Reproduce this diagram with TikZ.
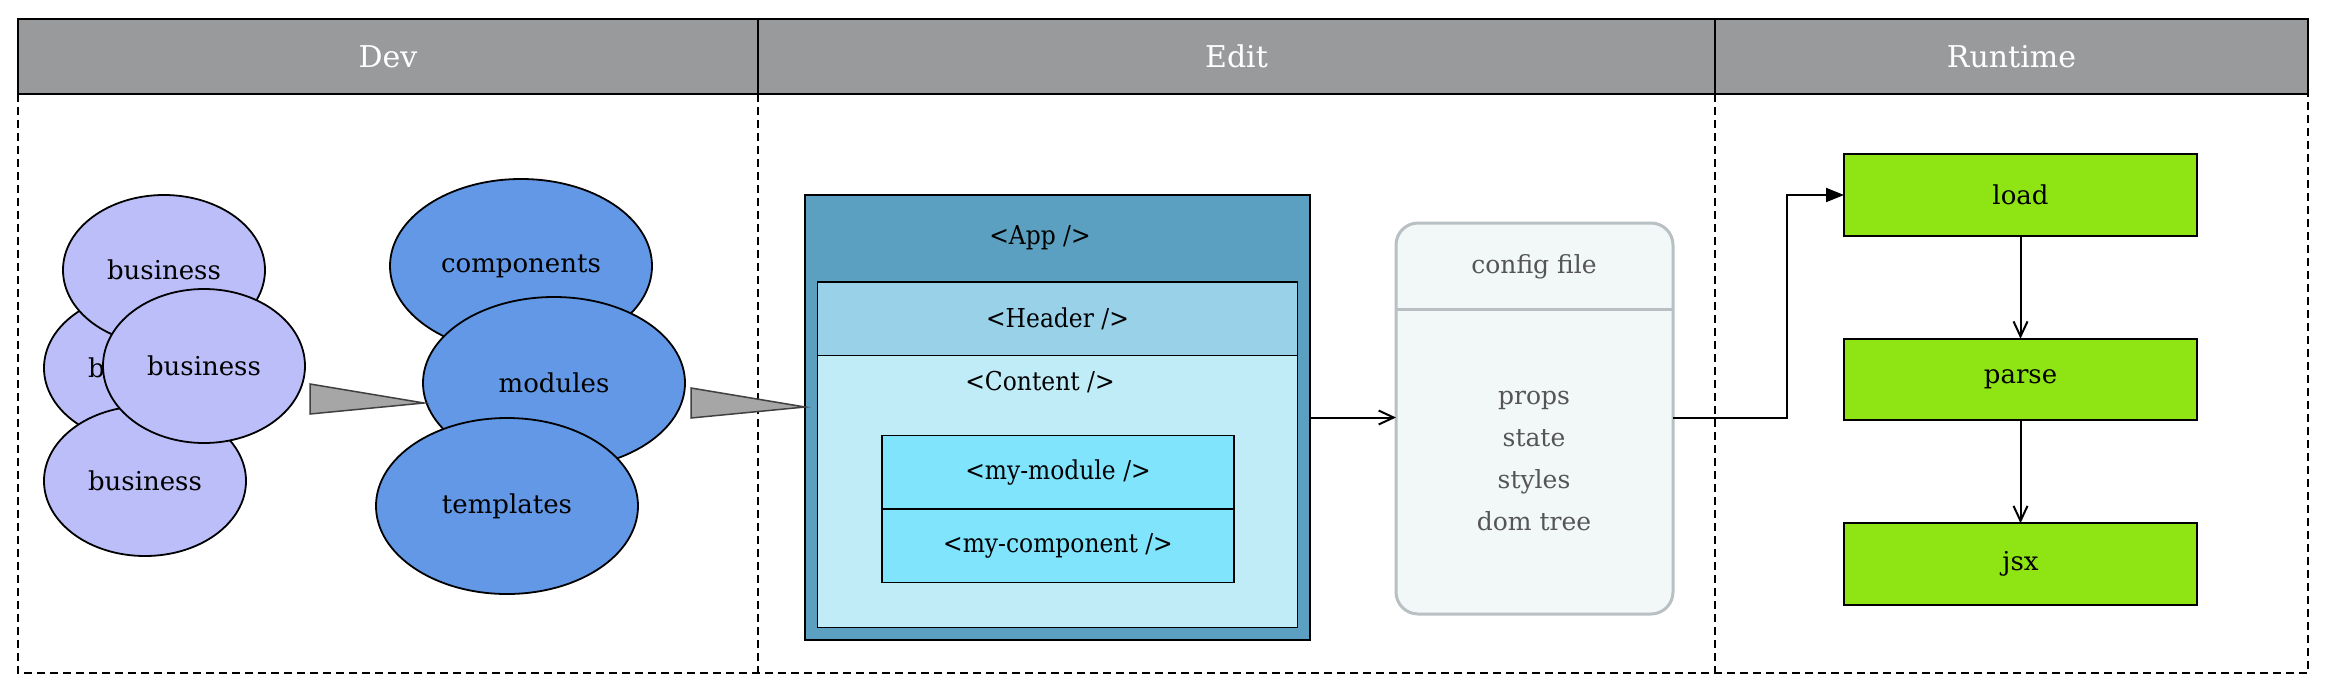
\documentclass[tikz,border=0pt]{standalone}
\usepackage{fontspec}
\setmainfont{DejaVu Serif}
\newfontfamily\condfont{DejaVu Serif}[FakeStretch=0.9]
\usetikzlibrary{shapes.geometric, positioning, arrows.meta}

\definecolor{headgray}{RGB}{153,154,156}
\definecolor{bizlilac}{RGB}{187,190,248}
\definecolor{partblue}{RGB}{98,152,230}
\definecolor{wedgegray}{RGB}{166,166,166}
\definecolor{appblue}{RGB}{91,160,192}
\definecolor{hdrblue}{RGB}{152,209,232}
\definecolor{cntblue}{RGB}{192,236,247}
\definecolor{modcyan}{RGB}{128,228,253}
\definecolor{cfgfill}{RGB}{242,247,247}
\definecolor{cfgedge}{RGB}{185,192,195}
\definecolor{cfgtext}{RGB}{85,85,85}
\definecolor{stepgreen}{RGB}{143,229,19}

\gdef\Bfill{bizlilac}
\gdef\Pfill{partblue}
\gdef\bodyfont{\fontsize{26}{31}\selectfont}

\tikzset{
  lanehead/.style={draw, line width=2pt, fill=headgray, text=white, inner sep=0, outer sep=0,
    minimum height=75pt, anchor=north west, font=\fontsize{30}{36}\selectfont},
  lanedash/.style={line width=1.5pt, dash pattern=on 8pt off 5pt},
  blob/.style={draw, ellipse, line width=1.8pt, inner sep=0, font=\bodyfont},
  wedge/.style={draw=black!75, line width=1.5pt, fill=wedgegray},
  tagbox/.style={draw, line width=1.8pt, inner sep=0, outer sep=0, font=\condfont\bodyfont},
  cfgbox/.style={draw=cfgedge, line width=3pt, fill=cfgfill, rounded corners=22pt, inner sep=0, outer sep=0},
  cfglabel/.style={text=cfgtext, align=center, font=\fontsize{25}{42}\selectfont},
  stepbox/.style={draw, line width=1.8pt, fill=stepgreen, inner sep=0, outer sep=0, font=\bodyfont,
    minimum width=353pt, minimum height=81.5pt},
  link/.style={line width=2pt}
}

\begin{document}
\begin{tikzpicture}[x=1pt, y=-1pt, >={Straight Barb[length=15pt, width=14pt]}, node distance=103pt]
\useasboundingbox (0,0) rectangle (2330,694);

% lanes
\node[lanehead, minimum width=740pt] (dev) at (18,19) {Dev};
\node[lanehead, minimum width=957pt] (edit) at (758,19) {Edit};
\node[lanehead, minimum width=593pt] (runtime) at (1715,19) {Runtime};
\draw[lanedash] (dev.south west) -- (dev.south west |- 0,673) -- (runtime.south east |- 0,673) -- (runtime.south east);
\draw[lanedash] (edit.south west) -- (edit.south west |- 0,673);
\draw[lanedash] (runtime.south west) -- (runtime.south west |- 0,673);

% dev
\node[blob, fill=\Bfill, minimum width=202pt, minimum height=150pt] (biz2) at (145,368) {business};
\node[blob, fill=\Bfill, minimum width=202pt, minimum height=150pt] (biz1) at (164,270) {business};
\node[blob, fill=\Bfill, minimum width=202pt, minimum height=150pt] (biz3) at (145,481) {business};
\node[blob, fill=\Bfill, minimum width=202pt, minimum height=154pt] (biz4) at (204,366) {business};
\node[blob, fill=\Pfill, minimum width=262pt, minimum height=174pt] (comps) at (521,266) {components};
\node[blob, fill=\Pfill, minimum width=262pt, minimum height=172pt] (mods) at (554,383) {modules};
\node[blob, fill=\Pfill, minimum width=262pt, minimum height=176pt] (tmpls) at (507,506) {templates};
\coordinate (tip1) at (424,403);
\draw[wedge] (310,384) -- (tip1) -- (310,414) -- cycle;

% edit
\node[tagbox, fill=appblue, minimum width=505pt, minimum height=445pt, anchor=north west] (app) at (805,195) {};
\coordinate (tip2) at (app.west |- 0,407);
\draw[wedge] (691,388) -- (tip2) -- (691,418) -- cycle;
\node[font=\condfont\bodyfont] (applbl) at (1040,238) {<App />};
\node[tagbox, fill=hdrblue, minimum width=480pt, minimum height=73.5pt, anchor=north west] (hdr) at (817.5,282) {<Header />};
\node[tagbox, fill=cntblue, minimum width=480pt, minimum height=272pt, anchor=north west] (cnt) at (hdr.south west) {};
\node[font=\condfont\bodyfont] (cntlbl) at (1040,382) {<Content />};
\node[tagbox, fill=modcyan, minimum width=352pt, minimum height=73.5pt, anchor=north west] (mymod) at (882,435.5) {<my-module />};
\node[tagbox, fill=modcyan, minimum width=352pt, minimum height=73.5pt, anchor=north] (mycomp) at (mymod.south) {<my-component />};

\node[cfgbox, minimum width=277pt, minimum height=391pt, anchor=north west] (cfg) at (1396,223) {};
\draw[cfgedge, line width=3pt] (cfg.west |- 0,309) -- (cfg.east |- 0,309);
\node[cfglabel] (cfgname) at (1534,267) {config file};
\node[cfglabel] (cfgitems) at (1534,461) {props\\state\\styles\\dom tree};

\draw[link, ->] (app.east) -- (app.east -| cfg.west);

% runtime
\node[stepbox] (load) at (2020.5,195) {load};
\node[stepbox, below=of load] (parse) {parse};
\node[stepbox, below=of parse] (jsx) {jsx};

\draw[link, -{Triangle[length=18pt, width=14pt]}] (app.east -| cfg.east) -- ++(114,0) |- (load.west);
\draw[link, ->] (load) -- (parse);
\draw[link, ->] (parse) -- (jsx);
\end{tikzpicture}
\end{document}
